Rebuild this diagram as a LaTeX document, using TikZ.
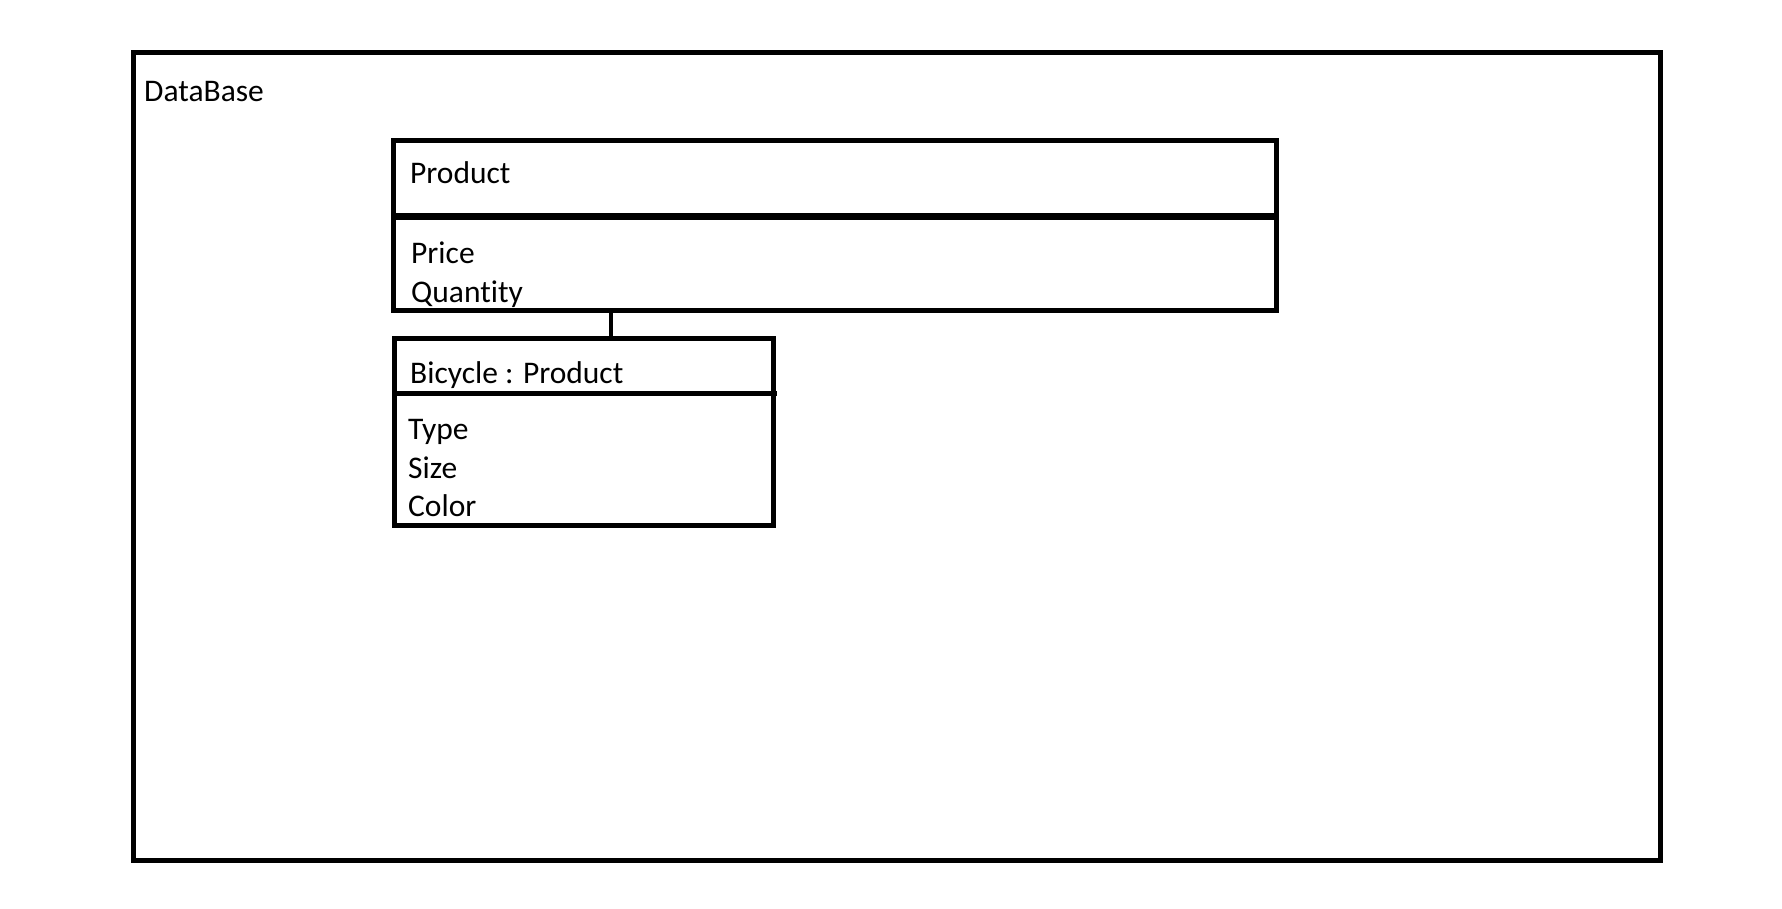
\documentclass[tikz,border=0pt]{standalone}
\usepackage{fontspec}
\setmainfont[Ligatures=NoCommon]{Carlito}
\begin{document}
\begin{tikzpicture}[x=1pt,y=-1pt,
		box/.style={line width=5pt},
		lbl/.style={anchor=base west, inner sep=0pt, font=\fontsize{31.5}{38.5}\selectfont}]
		\useasboundingbox (0,0) rectangle (1782,909);
		\fill[white] (0,0) rectangle (1782,909);
		%DataBase
		\draw[box] (133,53) rectangle (1660,860);
		\node[lbl] (dbname) at (144,102) {DataBase};
		%Product
		\draw[box] (393,141) rectangle (1276,215.5);
		\draw[box] (393,218) rectangle (1276,310);
		\node[lbl] (prodname) at (410,184) {Product};
		\node[lbl] (price) at (411,264) {Price};
		\node[lbl] (quantity) at (411,302.5) {Quantity};
		%Bicycle
		\draw[box] (394.5,338.5) rectangle (773,525.5);
		\draw[box] (394.5,393.5) -- (777,393.5);
		\node[lbl] (bikename) at (410,383) {Bicycle : Product};
		\node[lbl] (type) at (408,439.5) {Type};
		\node[lbl] (size) at (408,478) {Size};
		\node[lbl] (color) at (408,516.5) {Color};
		%Vererbung
		\coordinate (prodlink) at (611,310);
		\coordinate (bikelink) at (611,338.5);
		\draw[line width=4.5pt] (prodlink) -- (bikelink);
	\end{tikzpicture}
\end{document}
